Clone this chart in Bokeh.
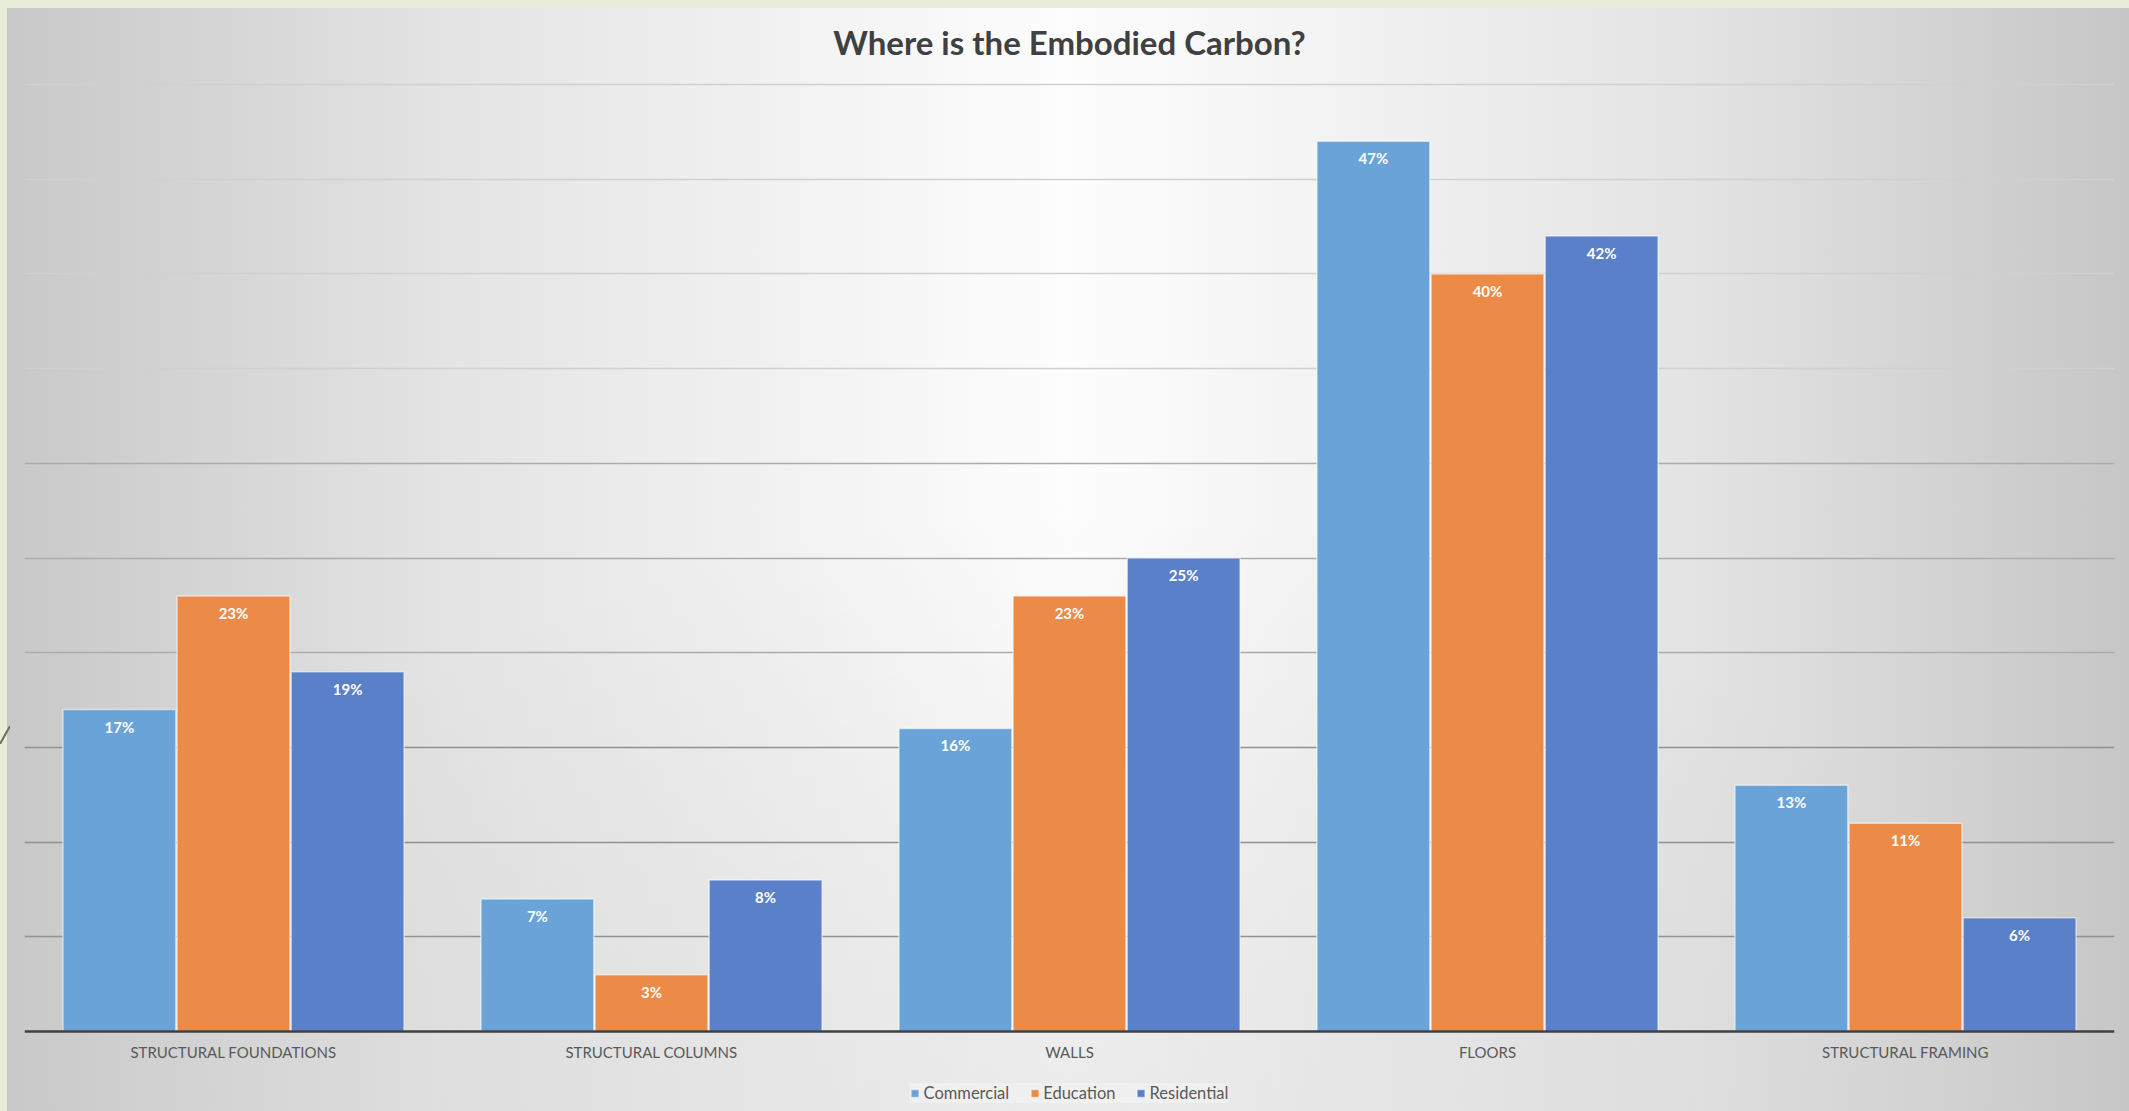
from bokeh.plotting import figure
from bokeh.models import (ColumnDataSource, FactorRange, Range1d, LabelSet, Label,
                          Legend, LegendItem, FixedTicker, Grid, Span)
from bokeh.transform import dodge
from bokeh.embed import file_html
from bokeh.resources import INLINE
from bokeh.core.properties import value

# Share of embodied carbon (%) by building element
categories = ["STRUCTURAL FOUNDATIONS", "STRUCTURAL COLUMNS", "WALLS", "FLOORS", "STRUCTURAL FRAMING"]
commercial = [17, 7, 16, 47, 13]
education = [23, 3, 23, 40, 11]
residential = [19, 8, 25, 42, 6]

series_names = ["Commercial", "Education", "Residential"]
series_values = [commercial, education, residential]
series_colors = ["#6aa3d7", "#ec8a48", "#5a80c9"]
offsets = [-0.273, 0.0, 0.273]

FONT = "Lato"

W, H = 2129, 1111
Y_ZERO_PX, Y_TOP_PX = 1031, 84           # pixel rows of 0 % and 50 %
px_per_unit = (Y_ZERO_PX - Y_TOP_PX) / 50.0
y_start = -(H - Y_ZERO_PX) / px_per_unit
y_end = 50 + Y_TOP_PX / px_per_unit

p = figure(
    width=W, height=H,
    x_range=FactorRange(factors=categories, range_padding=0),
    y_range=Range1d(y_start, y_end),
    output_backend="svg", toolbar_location=None, tools="",
    min_border_left=24, min_border_right=15, min_border_top=0, min_border_bottom=0,
    border_fill_alpha=0, background_fill_alpha=0, outline_line_color=None,
)
p.xaxis.visible = False
p.yaxis.visible = False
p.xgrid.visible = False
p.ygrid.visible = False

# slide-style backdrop: light frame with a grey-white-grey sheen behind the chart,
# plus the small diagonal accent stroke on the left margin
p.styles = {
    "background": (
        "linear-gradient(to bottom right, rgba(0,0,0,0) 42%, #7d6f55 46%, #7d6f55 54%, rgba(0,0,0,0) 58%) 0px 726px / 10px 18px no-repeat, "
        "radial-gradient(ellipse 45% 55% at 50% 100%, rgba(0,0,0,0.07) 0%, rgba(0,0,0,0) 100%) 7px 8px / calc(100% - 7px) calc(100% - 8px) no-repeat, "
        "linear-gradient(to right, #c8c8c8 0%, #e3e3e3 20%, #f9f9f9 45%, #fdfdfd 50%, #f9f9f9 55%, #e3e3e3 80%, #c6c6c6 100%) 7px 8px / calc(100% - 7px) calc(100% - 8px) no-repeat, "
        "#e7edd6"
    )
}

# horizontal gridlines every 5 %, fading toward the top
for ticks, col in [([5, 10, 15], "#919191"), ([20, 25, 30], "#ababab"), ([35, 40, 45, 50], "#d0d0d0")]:
    p.add_layout(Grid(dimension=1, ticker=FixedTicker(ticks=ticks),
                      grid_line_color=col, grid_line_width=1.5))

src = ColumnDataSource(dict(
    cat=categories,
    zero=[0] * len(categories),
    commercial=commercial, education=education, residential=residential,
    commercial_lbl=[f"{v}%" for v in commercial],
    education_lbl=[f"{v}%" for v in education],
    residential_lbl=[f"{v}%" for v in residential],
))

items = []
for name, vals, col, off in zip(series_names, series_values, series_colors, offsets):
    key = name.lower()
    r = p.vbar(x=dodge("cat", off, range=p.x_range), top=key, width=0.27, source=src,
               fill_color=col, line_color="#ffffff", line_alpha=0.55, line_width=1.5)
    items.append(LegendItem(label=name, renderers=[r]))
    p.add_layout(LabelSet(x=dodge("cat", off, range=p.x_range), y=key, text=key + "_lbl",
                          source=src, text_align="center", text_baseline="middle", y_offset=-17,
                          text_color="white", text_font=value(FONT), text_font_style="bold",
                          text_font_size="15px"))

# category axis: baseline and labels
p.add_layout(Span(location=0, dimension="width", line_color="#404040", line_width=2.5))
p.add_layout(LabelSet(x="cat", y="zero", text="cat", source=src, text_align="center",
                      text_baseline="middle", y_offset=-20, text_color="#595959",
                      text_font=value(FONT), text_font_size="15px"))

legend = Legend(items=items, orientation="horizontal", location="bottom_center",
                label_text_font=FONT, label_text_font_size="16.5px", label_text_color="#595959",
                glyph_width=10, glyph_height=10, label_standoff=4, spacing=20,
                padding=6, margin=8, label_height=18,
                background_fill_color="#f2f2f2", background_fill_alpha=0.75,
                border_line_color=None)
p.add_layout(legend)

p.add_layout(Label(x=2.5, y=50 + (Y_TOP_PX - 41) / px_per_unit,
                   text="Where is the Embodied Carbon?", text_align="center",
                   text_baseline="middle", text_font=FONT, text_font_style="bold",
                   text_font_size="33px", text_color="#404040"))

open("out.html", "w").write(file_html(p, INLINE))
